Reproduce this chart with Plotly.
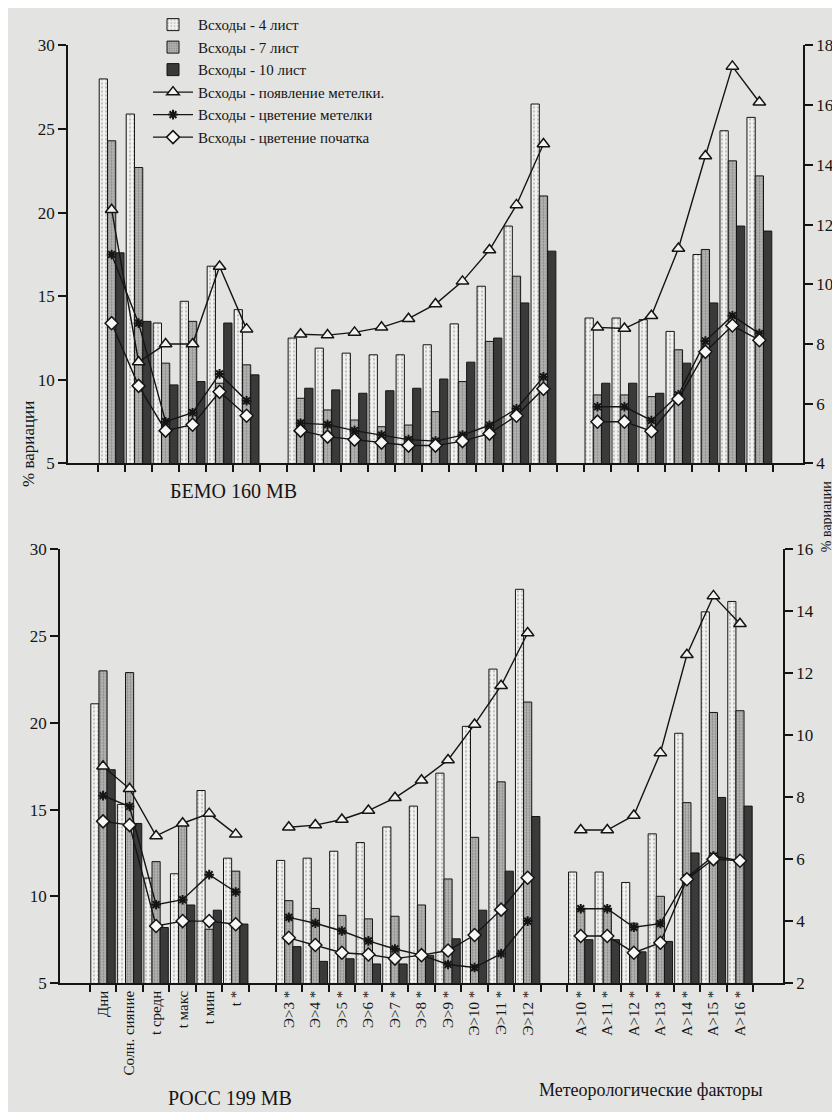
import plotly.graph_objects as go

# ---------------- data ----------------
categories = ["Дни", "Солн. сияние", "t средн", "t макс", "t мин", "t *", " ",
              "Э>3 *", "Э>4 *", "Э>5 *", "Э>6 *", "Э>7 *", "Э>8 *", "Э>9 *", "Э>10 *", "Э>11 *", "Э>12 *", "  ",
              "А>10 *", "А>11 *", "А>12 *", "А>13 *", "А>14 *", "А>15 *", "А>16 *"]

# BEMO 160 MB (top)
bemo_leaf4 = [28.0, 25.9, 13.4, 14.7, 16.8, 14.2, None, 12.5, 11.9, 11.6, 11.5, 11.5, 12.1, 13.35, 15.6, 19.2, 26.5, None,
              13.7, 13.7, 13.6, 12.9, 17.5, 24.9, 25.7]
bemo_leaf7 = [24.3, 22.7, 11.0, 13.5, 9.8, 10.9, None, 8.9, 8.2, 7.6, 7.2, 7.3, 8.1, 9.9, 12.3, 16.2, 21.0, None,
              9.1, 9.1, 9.0, 11.8, 17.8, 23.1, 22.2]
bemo_leaf10 = [17.6, 13.5, 9.7, 9.9, 13.4, 10.3, None, 9.5, 9.4, 9.2, 9.35, 9.5, 10.05, 11.06, 12.5, 14.6, 17.7, None,
               9.8, 9.8, 9.2, 11.0, 14.6, 19.2, 18.9]
bemo_panicle_app = [12.5, 7.4, 8.0, 8.0, 10.6, 8.5, None, 8.33, 8.30, 8.39, 8.56, 8.85, 9.34, 10.1, 11.15, 12.66, 14.7, None,
                    8.56, 8.52, 8.95, 11.2, 14.3, 17.3, 16.1]
bemo_panicle_fl = [11.0, 8.7, 5.4, 5.7, 7.0, 6.1, None, 5.35, 5.3, 5.1, 4.95, 4.8, 4.75, 4.95, 5.28, 5.83, 6.9, None,
                   5.9, 5.9, 5.44, 6.3, 8.1, 8.95, 8.35]
bemo_ear_fl = [8.7, 6.6, 5.1, 5.3, 6.4, 5.6, None, 5.1, 4.9, 4.8, 4.7, 4.6, 4.6, 4.75, 5.0, 5.6, 6.5, None,
               5.4, 5.4, 5.08, 6.16, 7.74, 8.62, 8.13]

# РОСС 199 МВ (bottom)
ross_leaf4 = [21.1, 15.3, 11.05, 11.3, 16.1, 12.2, None, 12.07, 12.2, 12.6, 13.1, 14.0, 15.2, 17.1, 19.8, 23.1, 27.7, None,
              11.4, 11.4, 10.8, 13.6, 19.4, 26.4, 27.0]
ross_leaf7 = [23.0, 22.9, 12.0, 14.3, 8.1, 11.45, None, 9.75, 9.3, 8.9, 8.7, 8.85, 9.5, 11.0, 13.4, 16.6, 21.2, None,
              9.25, 9.25, 8.45, 10.0, 15.4, 20.6, 20.7]
ross_leaf10 = [17.3, 14.2, 8.2, 9.5, 9.2, 8.4, None, 7.1, 6.25, 6.4, 6.1, 6.1, 6.6, 7.55, 9.2, 11.45, 14.6, None,
               7.5, 7.5, 6.8, 7.4, 12.5, 15.7, 15.2]
ross_panicle_app = [9.0, 8.27, 6.75, 7.16, 7.47, 6.8, None, 7.03, 7.1, 7.28, 7.57, 7.98, 8.55, 9.2, 10.35, 11.6, 13.3, None,
                    6.94, 6.94, 7.41, 9.43, 12.6, 14.5, 13.6]
ross_panicle_fl = [8.05, 7.7, 4.53, 4.69, 5.5, 4.94, None, 4.12, 3.93, 3.68, 3.36, 3.1, 2.9, 2.6, 2.5, 2.95, 4.0, None,
                   4.4, 4.4, 3.8, 3.92, 5.4, 6.1, 5.95]
ross_ear_fl = [7.22, 7.1, 3.84, 4.0, 4.0, 3.9, None, 3.46, 3.23, 2.98, 2.92, 2.79, 2.9, 3.05, 3.55, 4.37, 5.4, None,
               3.52, 3.52, 2.98, 3.3, 5.35, 6.0, 5.95]

left_ticks = [5, 10, 15, 20, 25, 30]
top_right_ticks = [4, 6, 8, 10, 12, 14, 16, 18]
bottom_right_ticks = [2, 4, 6, 8, 10, 12, 14, 16]

bar_names = ["Всходы - 4 лист", "Всходы - 7 лист", "Всходы - 10 лист"]
line_names = ["Всходы - появление метелки.", "Всходы - цветение метелки", "Всходы - цветение початка"]

# ---------------- styles ----------------
W, H = 840, 1112
FONT = "Liberation Serif"
INK = "#151515"
BG = "#e3e3e1"

bar_styles = [
    dict(color="#f2f2f0", line=dict(color=INK, width=1),
         pattern=dict(shape=".", fgcolor="#8a8a8a", bgcolor="#f2f2f0", size=4, solidity=0.25)),
    dict(color="#b4b4b2", line=dict(color=INK, width=1),
         pattern=dict(shape=".", fgcolor="#5a5a5a", bgcolor="#b4b4b2", size=3, solidity=0.3)),
    dict(color="#3a3a3a", line=dict(color=INK, width=1)),
]
line_markers = [
    dict(symbol="triangle-up", size=11, color="#f2f2f0", line=dict(color=INK, width=1.5)),
    dict(symbol="asterisk", size=8, color=INK, line=dict(color=INK, width=2)),
    dict(symbol="diamond", size=10, color="#f7f7f5", line=dict(color=INK, width=1.5)),
]

fig = go.Figure()

def add_panel(bars, lines, xa, ya_left, ya_right, legend):
    for name, vals, st in zip(bar_names, bars, bar_styles):
        fig.add_trace(go.Bar(x=categories, y=vals, name=name, marker=st,
                             xaxis=xa, yaxis=ya_left, showlegend=legend))
    for name, vals, mk in zip(line_names, lines, line_markers):
        fig.add_trace(go.Scatter(x=categories, y=vals, name=name, mode="lines+markers",
                                 line=dict(color=INK, width=1.4), marker=mk,
                                 connectgaps=False, xaxis=xa, yaxis=ya_right,
                                 showlegend=legend))

add_panel([bemo_leaf4, bemo_leaf7, bemo_leaf10],
          [bemo_panicle_app, bemo_panicle_fl, bemo_ear_fl], "x", "y", "y2", True)
add_panel([ross_leaf4, ross_leaf7, ross_leaf10],
          [ross_panicle_app, ross_panicle_fl, ross_ear_fl], "x2", "y3", "y4", False)

def px_x(a, b):
    return [a / W, b / W]

def px_y(top, bottom):
    return [1 - bottom / H, 1 - top / H]

tickfont = dict(family=FONT, size=17, color=INK)
common_y = dict(showgrid=False, zeroline=False, showline=True, linecolor=INK, linewidth=1.5,
                ticks="outside", ticklen=8, tickwidth=1.5, tickcolor=INK, tickfont=tickfont)
common_x = dict(type="category", categoryorder="array", categoryarray=categories,
                showgrid=False, zeroline=False, showline=True, linecolor=INK, linewidth=1.5,
                ticks="outside", tickson="boundaries", ticklen=7, tickwidth=1.5, tickcolor=INK)

fig.update_layout(
    width=W, height=H, autosize=False,
    margin=dict(l=0, r=0, t=0, b=0),
    paper_bgcolor=BG, plot_bgcolor="rgba(0,0,0,0)",
    barmode="group", bargap=0.08, bargroupgap=0.0,
    font=dict(family=FONT, color=INK),
    xaxis=dict(domain=px_x(60, 795), anchor="y", showticklabels=False, **common_x),
    yaxis=dict(domain=px_y(22, 450), anchor="x", range=[5, 30], tickvals=left_ticks, **common_y),
    yaxis2=dict(overlaying="y", side="right", anchor="x", range=[4, 18], tickvals=top_right_ticks, **common_y),
    xaxis2=dict(domain=px_x(52, 775), anchor="y3", tickangle=-90,
                tickfont=dict(family=FONT, size=15, color=INK), **common_x),
    yaxis3=dict(domain=px_y(538, 982), anchor="x2", range=[5, 30], tickvals=left_ticks, **common_y),
    yaxis4=dict(overlaying="y3", side="right", anchor="x2", range=[2, 16], tickvals=bottom_right_ticks, **common_y),
    legend=dict(x=140 / W, y=1 + 16 / H, xanchor="left", yanchor="top",
                bgcolor="rgba(0,0,0,0)", font=dict(family=FONT, size=15, color=INK),
                itemwidth=40, tracegroupgap=0, traceorder="normal"),
)

def note(text, x, y, size, angle=0):
    fig.add_annotation(text=text, x=x / W, y=1 - y / H, xref="paper", yref="paper",
                       showarrow=False, textangle=angle,
                       font=dict(family=FONT, size=size, color=INK),
                       xanchor="center", yanchor="middle")

note("БЕМО 160 МВ", 225, 478, 20)
note("РОСС 199 МВ", 222, 1100, 20)
note("Метеорологические факторы", 643, 1092, 18)
note("% вариации", 21, 430, 17, -90)
note("% вариации", 818, 505, 14, -90)

fig.write_html("out.html")
